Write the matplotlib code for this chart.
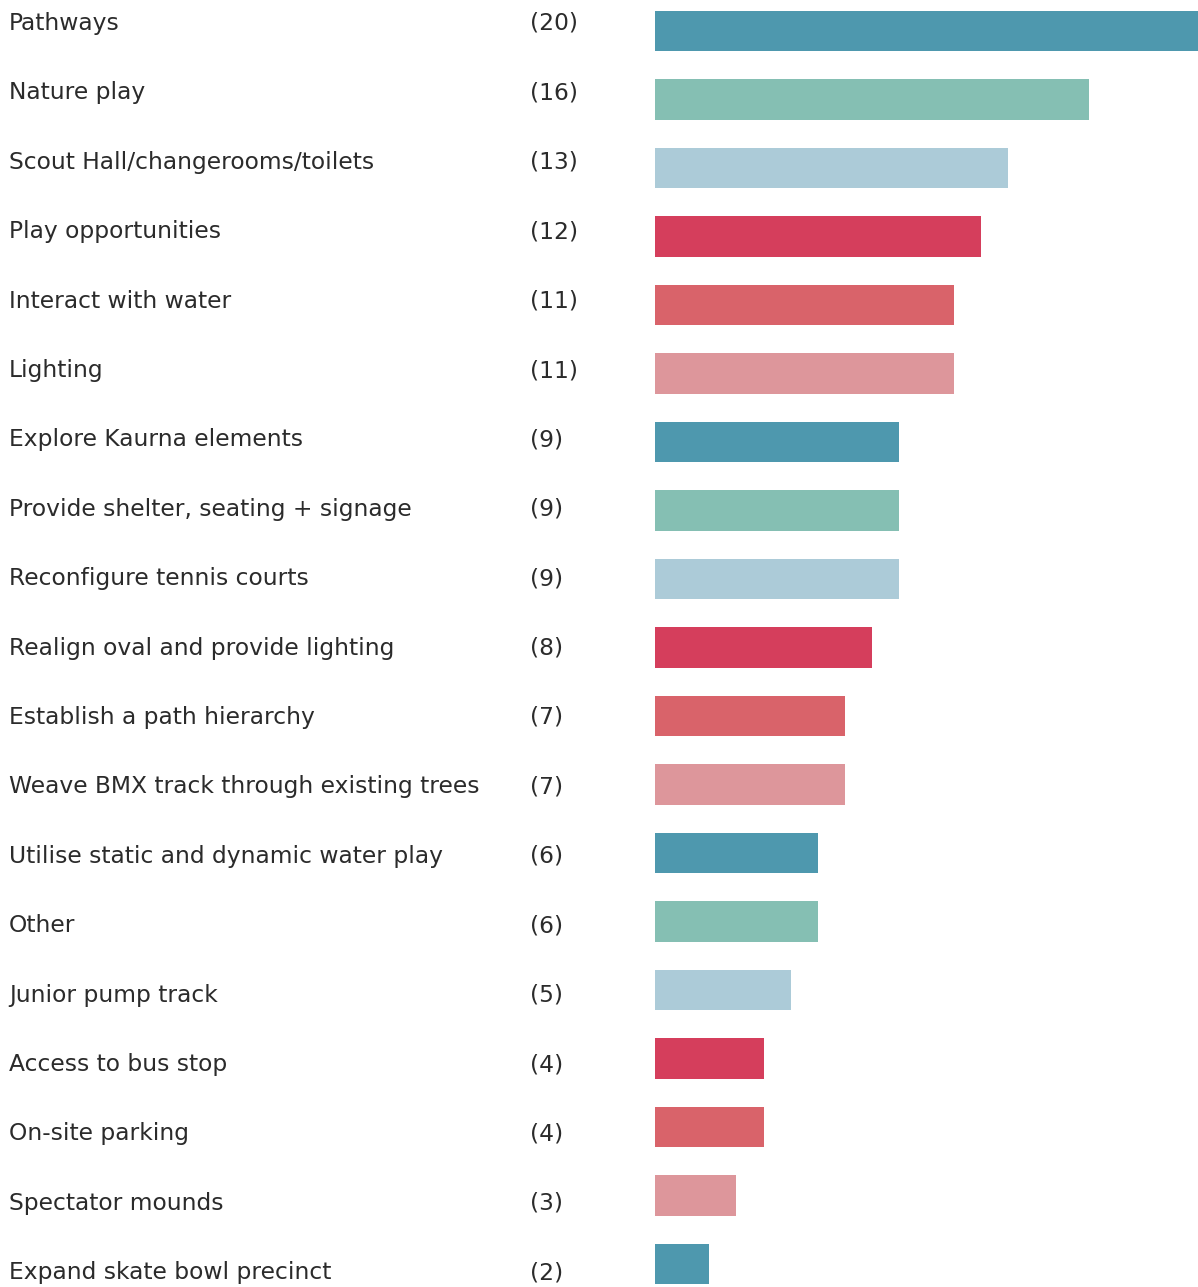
import matplotlib.pyplot as plt

labels = ['Pathways', 'Nature play', 'Scout Hall/changerooms/toilets', 'Play opportunities',
          'Interact with water', 'Lighting', 'Explore Kaurna elements',
          'Provide shelter, seating + signage', 'Reconfigure tennis courts',
          'Realign oval and provide lighting', 'Establish a path hierarchy',
          'Weave BMX track through existing trees', 'Utilise static and dynamic water play',
          'Other', 'Junior pump track', 'Access to bus stop', 'On-site parking',
          'Spectator mounds', 'Expand skate bowl precinct']
counts = [20, 16, 13, 12, 11, 11, 9, 9, 9, 8, 7, 7, 6, 6, 5, 4, 4, 3, 2]
palette = ['#4e98ae', '#85bfb3', '#accbd8', '#d53e5c', '#d9636a', '#dd969b']

W, H = 1198, 1287
fig = plt.figure(figsize=(W / 100, H / 100), dpi=100)
ax = fig.add_axes([655 / W, 0, 1 - 655 / W, 1])

ys = list(range(len(labels)))
colors = [palette[i % len(palette)] for i in ys]
ax.barh(ys, counts, height=0.584, color=colors)
ax.set_xlim(0, 20)
ax.set_ylim(18 + 23 / 68.5, -31 / 68.5)
ax.axis('off')

# text rows are spaced a little wider than the bars in the original
for i, (lab, c) in enumerate(zip(labels, counts)):
    yb = 1 - (30 + 69.4 * i) / H
    fig.text(9 / W, yb, lab, ha='left', va='baseline',
             fontsize=16.8, family='DejaVu Sans', color='#2b2b2b')
    fig.text(530 / W, yb, '(%d)' % c, ha='left', va='baseline',
             fontsize=16.8, family='DejaVu Sans', color='#2b2b2b')

fig.savefig('out.png', dpi=100)
